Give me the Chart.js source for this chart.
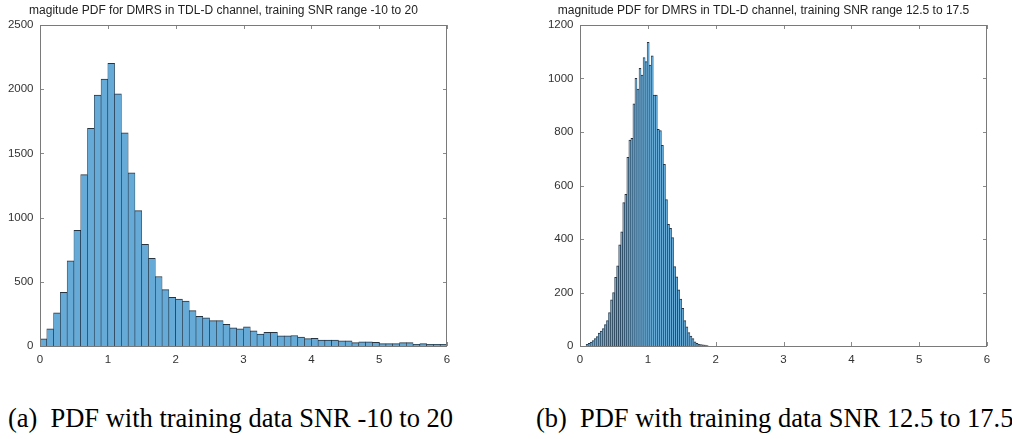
<!DOCTYPE html>
<html><head><meta charset="utf-8">
<script src="https://cdn.jsdelivr.net/npm/chart.js@4.4.0/dist/chart.umd.min.js"></script>
<style>
html,body{margin:0;padding:0;background:#fff;width:1012px;height:439px;overflow:hidden;}
body{position:relative;}
#ca{position:absolute;left:0;top:0;}
#cb{position:absolute;left:540px;top:0;}
.cap{position:absolute;top:405px;font-family:"Liberation Serif","Times New Roman",serif;font-size:26.5px;color:#000;white-space:nowrap;line-height:1;}
</style></head><body>
<canvas id="ca" width="468" height="366"></canvas>
<canvas id="cb" width="470" height="366"></canvas>
<div class="cap" style="left:8px">(a)<span style="margin-left:13px">PDF with training data SNR -10 to 20</span></div>
<div class="cap" style="left:536px">(b)<span style="margin-left:13px">PDF with training data SNR 12.5 to 17.5</span></div>
<script>
// ---- data ----
const leftTitle = 'magitude PDF for DMRS in TDL-D channel, training SNR range -10 to 20';
const rightTitle = 'magnitude PDF for DMRS in TDL-D channel, training SNR range 12.5 to 17.5';
const xTicks = [0, 1, 2, 3, 4, 5, 6];
const leftYTicks = [0, 500, 1000, 1500, 2000, 2500];
const rightYTicks = [0, 200, 400, 600, 800, 1000, 1200];
const leftBinStart = 0, leftBinWidth = 0.1;
const leftCounts = [55,134,258,418,664,900,1335,1696,1954,2079,2202,1963,1660,1348,1054,792,682,541,439,380,365,349,275,232,219,198,198,168,142,134,150,119,93,106,106,80,80,82,70,57,59,46,46,46,41,41,26,33,33,28,18,18,18,26,26,13,18,13,13,13];
const rightBinStart = 0.09, rightBinWidth = 0.03;
const rightCounts = [6,10,15,20,28,35,48,56,65,80,95,125,173,200,257,300,378,427,536,567,705,770,776,905,1001,960,1038,1013,1078,1063,1135,1050,1085,938,938,810,805,750,679,547,455,440,405,297,259,210,175,141,95,72,50,37,28,16,10,6,5,4,3,2];

// ---- chart ----
const tickFont = {family: '"Liberation Sans", Arial, Helvetica, sans-serif', size: 11.5};
const tickColor = '#333333';

const boxTicks = {
  id: 'boxTicks',
  beforeDatasetsDraw(chart) {
    const {ctx, chartArea: a, scales: {x, y}} = chart;
    const len = 4;
    ctx.save();
    ctx.strokeStyle = '#8a8a8a';
    ctx.lineWidth = 1;
    ctx.beginPath();
    x.ticks.forEach(t => {
      const px = Math.round(x.getPixelForValue(t.value)) + 0.5;
      ctx.moveTo(px, a.bottom); ctx.lineTo(px, a.bottom - len);
      ctx.moveTo(px, a.top); ctx.lineTo(px, a.top + len);
    });
    y.ticks.forEach(t => {
      const py = Math.round(y.getPixelForValue(t.value)) + 0.5;
      ctx.moveTo(a.left, py); ctx.lineTo(a.left + len, py);
      ctx.moveTo(a.right, py); ctx.lineTo(a.right - len, py);
    });
    ctx.stroke();
    ctx.restore();
  },
  afterDatasetsDraw(chart) {
    const {ctx, chartArea: a} = chart;
    ctx.save();
    ctx.strokeStyle = '#7a7a7a';
    ctx.lineWidth = 1;
    ctx.strokeRect(Math.round(a.left) + 0.5, Math.round(a.top) + 0.5,
                   Math.round(a.right - a.left) - 1, Math.round(a.bottom - a.top));
    ctx.restore();
  }
};

function makeChart(id, title, start, width, counts, yTicks, padRight) {
  const pts = counts.map((c, i) => ({x: start + width * (i + 0.5), y: c}));
  const yMax = yTicks[yTicks.length - 1];
  const yStep = yTicks[1] - yTicks[0];
  return new Chart(document.getElementById(id), {
    type: 'bar',
    data: {datasets: [{
      data: pts,
      backgroundColor: '#66aad7',
      borderColor: 'rgba(15,30,45,0.9)',
      borderWidth: {top: 1, left: 0.6, right: 0.6, bottom: 0},
      borderSkipped: 'start',
      barPercentage: 1,
      categoryPercentage: 1
    }]},
    options: {
      responsive: false,
      animation: false,
      events: [],
      layout: {padding: {left: 0, right: padRight, top: 0, bottom: 0}},
      plugins: {
        legend: {display: false},
        tooltip: {enabled: false},
        title: {
          display: true, text: title, color: '#222',
          font: {family: '"Liberation Sans", Arial, Helvetica, sans-serif', size: 12, weight: 'normal'},
          padding: {top: 3, bottom: 7.6}
        }
      },
      scales: {
        x: {
          type: 'linear', min: 0, max: 6, offset: false,
          afterBuildTicks(s) { s.ticks = xTicks.map(v => ({value: v})); },
          ticks: {font: tickFont, color: tickColor, padding: 7, maxRotation: 0,
                  callback: v => String(v)},
          grid: {display: false, drawTicks: false},
          border: {display: false},
          afterFit(s) { s.height = 20; }
        },
        y: {
          min: 0, max: yMax,
          afterBuildTicks(s) { s.ticks = yTicks.map(v => ({value: v})); },
          ticks: {font: tickFont, color: tickColor, padding: 6.5, stepSize: yStep,
                  callback: v => String(v)},
          grid: {display: false, drawTicks: false},
          border: {display: false},
          afterFit(s) { s.width = 40; }
        }
      }
    },
    plugins: [boxTicks]
  });
}

makeChart('ca', leftTitle, leftBinStart, leftBinWidth, leftCounts, leftYTicks, 21);
makeChart('cb', rightTitle, rightBinStart, rightBinWidth, rightCounts, rightYTicks, 23);
</script>
</body></html>
